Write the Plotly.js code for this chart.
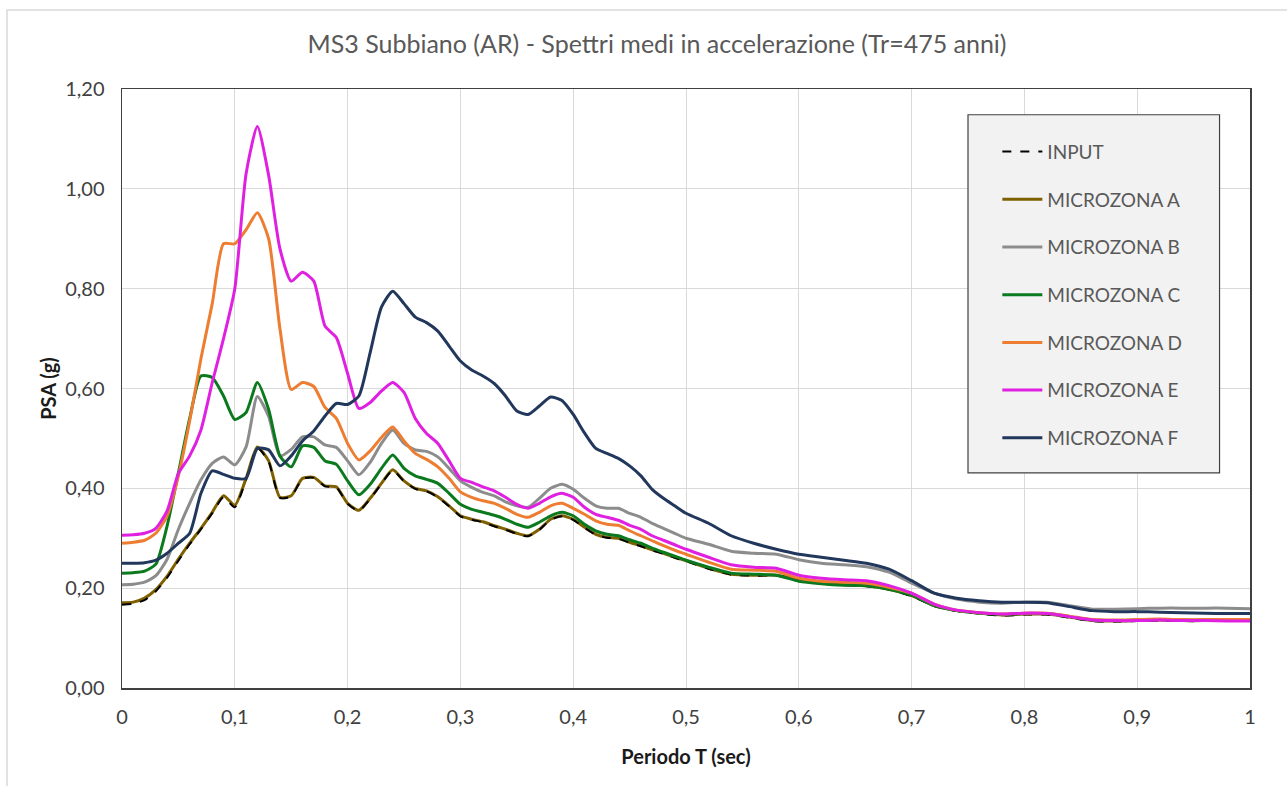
<!DOCTYPE html>
<html>
<head>
<meta charset="utf-8">
<script src="https://cdn.plot.ly/plotly-3.0.1.min.js"></script>
<style>html,body{margin:0;padding:0;background:#fff;}#chart{width:1287px;height:786px;}</style>
</head>
<body>
<div id="chart"></div>
<script>
// Period T (sec)
const periods = [0,0.01,0.02,0.03,0.04,0.05,0.06,0.07,0.08,0.09,0.10,0.11,0.12,0.13,0.14,0.15,0.16,0.17,0.18,0.19,0.20,0.21,0.22,0.23,0.24,0.25,0.26,0.27,0.28,0.29,0.30,0.31,0.32,0.33,0.34,0.35,0.36,0.37,0.38,0.39,0.40,0.41,0.42,0.43,0.44,0.45,0.46,0.47,0.48,0.49,0.50,
  0.52,0.54,0.56,0.58,0.60,0.62,0.64,0.66,0.68,0.70,0.72,0.74,0.76,0.78,0.80,0.82,0.84,0.86,0.88,0.90,0.92,0.94,0.96,0.98,1.00];

const input = [0.167,0.169,0.176,0.194,0.221,0.255,0.288,0.318,0.35,0.382,0.362,0.418,0.481,0.453,0.381,0.384,0.419,0.421,0.404,0.402,0.369,0.355,0.379,0.409,0.436,0.414,0.399,0.394,0.382,0.364,0.344,0.337,0.332,0.324,0.317,0.309,0.304,0.317,0.337,0.344,0.337,0.321,0.307,0.301,0.299,0.291,0.284,0.276,0.269,0.261,0.254,
  0.239,0.227,0.225,0.225,0.217,0.209,0.206,0.204,0.197,0.184,0.164,0.154,0.149,0.145,0.147,0.147,0.141,0.134,0.133,0.134,0.135,0.134,0.134,0.134,0.134];

const zonaA = [0.171,0.172,0.18,0.197,0.224,0.258,0.29,0.32,0.352,0.385,0.366,0.42,0.483,0.455,0.382,0.385,0.42,0.422,0.405,0.403,0.37,0.356,0.38,0.41,0.437,0.415,0.4,0.395,0.383,0.365,0.345,0.338,0.333,0.325,0.318,0.31,0.305,0.318,0.338,0.345,0.338,0.322,0.308,0.302,0.3,0.292,0.285,0.277,0.27,0.262,0.255,
  0.24,0.228,0.226,0.226,0.218,0.21,0.207,0.205,0.198,0.185,0.165,0.155,0.15,0.146,0.148,0.148,0.142,0.135,0.134,0.135,0.136,0.135,0.135,0.135,0.135];

const zonaB = [0.207,0.208,0.212,0.225,0.258,0.318,0.37,0.417,0.45,0.463,0.447,0.483,0.584,0.544,0.465,0.478,0.503,0.503,0.487,0.482,0.455,0.427,0.452,0.49,0.517,0.49,0.477,0.474,0.463,0.44,0.415,0.402,0.392,0.385,0.373,0.365,0.362,0.38,0.4,0.408,0.398,0.38,0.365,0.36,0.36,0.35,0.342,0.33,0.32,0.31,0.3,
  0.288,0.274,0.27,0.268,0.257,0.25,0.247,0.243,0.232,0.21,0.19,0.178,0.172,0.17,0.172,0.172,0.165,0.158,0.158,0.159,0.16,0.16,0.16,0.16,0.159];

const zonaC = [0.23,0.231,0.234,0.248,0.325,0.431,0.54,0.625,0.622,0.585,0.538,0.552,0.612,0.558,0.465,0.443,0.485,0.482,0.455,0.448,0.415,0.387,0.408,0.44,0.467,0.44,0.425,0.418,0.41,0.39,0.368,0.358,0.352,0.346,0.338,0.328,0.322,0.332,0.345,0.352,0.345,0.328,0.315,0.308,0.305,0.297,0.29,0.28,0.272,0.264,0.256,
  0.242,0.23,0.228,0.226,0.214,0.209,0.206,0.205,0.198,0.186,0.165,0.155,0.15,0.147,0.149,0.149,0.143,0.136,0.135,0.136,0.137,0.136,0.136,0.136,0.136];

const zonaD = [0.29,0.292,0.296,0.31,0.345,0.425,0.535,0.66,0.77,0.89,0.89,0.918,0.952,0.9,0.72,0.598,0.612,0.604,0.562,0.54,0.49,0.457,0.475,0.502,0.523,0.495,0.47,0.458,0.443,0.42,0.393,0.382,0.375,0.37,0.36,0.348,0.342,0.352,0.365,0.37,0.36,0.348,0.335,0.328,0.326,0.315,0.305,0.295,0.285,0.276,0.268,
  0.252,0.238,0.236,0.234,0.22,0.214,0.212,0.21,0.202,0.19,0.168,0.156,0.151,0.148,0.15,0.15,0.144,0.137,0.136,0.137,0.138,0.137,0.137,0.137,0.137];

const zonaE = [0.306,0.307,0.31,0.32,0.355,0.43,0.465,0.517,0.612,0.7,0.8,1.03,1.125,1.027,0.88,0.815,0.833,0.815,0.725,0.702,0.63,0.56,0.572,0.595,0.612,0.592,0.54,0.51,0.49,0.455,0.42,0.412,0.403,0.395,0.382,0.368,0.36,0.37,0.383,0.39,0.382,0.362,0.348,0.342,0.336,0.326,0.318,0.305,0.296,0.287,0.278,
  0.262,0.247,0.242,0.24,0.226,0.22,0.217,0.215,0.205,0.19,0.168,0.156,0.151,0.148,0.15,0.149,0.143,0.136,0.135,0.135,0.136,0.135,0.135,0.134,0.134];

const zonaF = [0.25,0.25,0.251,0.256,0.27,0.29,0.31,0.39,0.435,0.428,0.42,0.42,0.48,0.477,0.445,0.465,0.495,0.515,0.545,0.57,0.568,0.585,0.672,0.763,0.795,0.77,0.743,0.732,0.715,0.685,0.655,0.637,0.625,0.61,0.585,0.555,0.548,0.565,0.583,0.576,0.548,0.511,0.48,0.47,0.46,0.445,0.425,0.398,0.38,0.365,0.35,
  0.33,0.305,0.29,0.278,0.268,0.262,0.256,0.25,0.238,0.215,0.19,0.18,0.175,0.172,0.172,0.171,0.163,0.155,0.153,0.153,0.152,0.151,0.15,0.149,0.149];

const seriesNames = ['INPUT','MICROZONA A','MICROZONA B','MICROZONA C','MICROZONA D','MICROZONA E','MICROZONA F'];
const seriesData = [input, zonaA, zonaB, zonaC, zonaD, zonaE, zonaF];
const seriesColors = ['#000000','#7F6000','#8C8C8C','#0B7A1E','#ED7D31','#E020E0','#22375C'];

const traces = [];
// draw order: A under input so the dashed black shows on its edge
const drawOrder = [1,0,2,3,4,5,6];
drawOrder.forEach(function(i){
  traces.push({
    x: periods, y: seriesData[i], type: 'scatter', mode: 'lines',
    name: seriesNames[i], legendgroup: 'g'+i, legendrank: i+1,
    line: {color: seriesColors[i], width: i===0 ? 2 : 3, dash: i===0 ? 'dash' : 'solid', shape: 'spline', smoothing: 0.6}
  });
});

const font = 'Lato, "Open Sans", sans-serif';
const layout = {
  width: 1287, height: 786,
  margin: {l: 122, r: 37, t: 89, b: 98},
  paper_bgcolor: '#ffffff', plot_bgcolor: '#ffffff',
  separators: ', ',
  font: {family: font, size: 20, color: '#404040'},
  title: {text: 'MS3 Subbiano (AR) - Spettri medi in accelerazione (Tr=475 anni)',
    font: {family: font, size: 25, color: '#595959'}, x: 0.5105, xanchor: 'center', y: 0.944, yanchor: 'middle'},
  xaxis: {range: [0, 1], dtick: 0.1, tick0: 0, showgrid: true, gridcolor: '#d9d9d9', gridwidth: 1,
    showline: true, linecolor: '#404040', linewidth: 1.5, mirror: true, zeroline: false,
    ticks: 'outside', ticklen: 10, tickcolor: 'rgba(0,0,0,0)',
    tickfont: {family: font, size: 20, color: '#404040'},
    title: {text: 'Periodo T (sec)', font: {family: font, size: 20, color: '#1a1a1a', weight: 'bold'}, standoff: 23}},
  yaxis: {range: [0, 1.2], dtick: 0.2, tick0: 0, tickformat: '.2f', showgrid: true, gridcolor: '#d9d9d9', gridwidth: 1,
    showline: true, linecolor: '#404040', linewidth: 1.5, mirror: true, zeroline: false,
    ticks: 'outside', ticklen: 12, tickcolor: 'rgba(0,0,0,0)',
    tickfont: {family: font, size: 20, color: '#404040'},
    title: {text: 'PSA (g)', font: {family: font, size: 20, color: '#1a1a1a', weight: 'bold'}, standoff: 3}},
  showlegend: true,
  legend: {x: 0.776, y: 0.927, xanchor: 'left', yanchor: 'top', bgcolor: 'rgba(0,0,0,0)', borderwidth: 0,
    font: {family: font, size: 19, color: '#595959'}, tracegroupgap: 20, traceorder: 'grouped', itemwidth: 40},
  shapes: [
    {type: 'rect', xref: 'paper', yref: 'paper', x0: -0.102, x1: 1.05, y0: -0.2, y1: 1.132,
      line: {color: '#d9d9d9', width: 1.5}, fillcolor: 'rgba(0,0,0,0)', layer: 'below'},
    {type: 'rect', xref: 'paper', yref: 'paper', x0: 0.75, x1: 0.973, y0: 0.359, y1: 0.957,
      line: {color: '#404040', width: 1.2}, fillcolor: '#f2f2f2', layer: 'above'}
  ]
};

Plotly.newPlot('chart', traces, layout, {displayModeBar: false, staticPlot: true});
</script>
</body>
</html>
